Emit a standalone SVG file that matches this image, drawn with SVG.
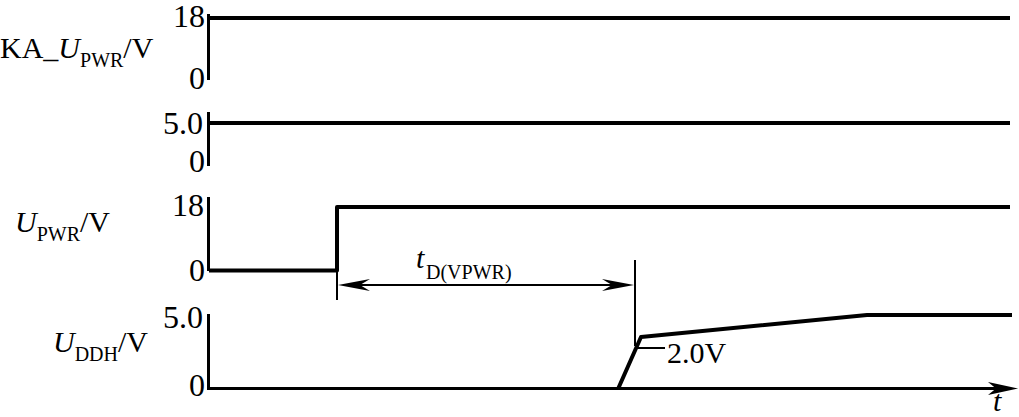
<svg xmlns="http://www.w3.org/2000/svg" width="1019" height="417" viewBox="0 0 1019 417">
<style>
text{font-family:"Liberation Serif","Times New Roman",serif;fill:#000}
.lbl{font-size:30px}
.num{font-size:32px}
.sub{font-size:20px}
.it{font-style:italic}
.axis{stroke:#000;stroke-width:3;fill:none}
.sig{stroke:#000;stroke-width:4;fill:none;stroke-linejoin:round}
.dim{stroke:#000;stroke-width:2;fill:none}
.head{fill:#000;stroke:none}
</style>
<rect width="1019" height="417" fill="#fff"/>
<g id="panel-ka-upwr">
<text class="lbl" x="0" y="58">KA_<tspan class="it">U</tspan><tspan class="sub" dy="9">PWR</tspan><tspan dy="-9">/V</tspan></text>
<text class="num" x="173" y="27">18</text>
<text class="num" x="189" y="89">0</text>
<line class="axis" x1="208.5" y1="14" x2="208.5" y2="80"/>
<line class="sig" x1="208" y1="18" x2="1010" y2="18"/>
</g>
<g id="panel-2">
<text class="num" x="163" y="134">5.0</text>
<text class="num" x="189" y="172">0</text>
<line class="axis" x1="208.5" y1="112" x2="208.5" y2="166"/>
<line class="sig" x1="208" y1="123" x2="1010" y2="123"/>
</g>
<g id="panel-upwr">
<text class="lbl" x="15" y="232"><tspan class="it">U</tspan><tspan class="sub" dy="9">PWR</tspan><tspan dy="-9">/V</tspan></text>
<text class="num" x="172" y="216">18</text>
<text class="num" x="189" y="281">0</text>
<line class="axis" x1="208.5" y1="197" x2="208.5" y2="271"/>
<polyline class="sig" points="209,270.5 337,270.5 337,207 1010,207"/>
</g>
<g id="panel-uddh">
<text class="lbl" x="53" y="352"><tspan class="it">U</tspan><tspan class="sub" dy="9">DDH</tspan><tspan dy="-9">/V</tspan></text>
<text class="num" x="163" y="328">5.0</text>
<text class="num" x="189" y="396">0</text>
<line class="axis" x1="208.5" y1="314" x2="208.5" y2="390"/>
<polyline class="sig" points="618,389 641,337 867,315 1012,315"/>
</g>
<g id="time-axis">
<line class="axis" x1="208" y1="388.5" x2="1005" y2="388.5"/>
<path class="head" d="M1018,388.5 L988,382 L996,388.5 L988,395 Z"/>
<text class="lbl it" x="993" y="411">t</text>
</g>
<g id="connectors">
<line class="dim" x1="337" y1="270" x2="337" y2="300"/>
<line class="dim" x1="635" y1="260" x2="635" y2="346"/>
<line class="dim" x1="345" y1="285" x2="628" y2="285"/>
<path class="head" d="M338,285 L370,279 L360,285 L370,291 Z"/>
<path class="head" d="M634,285 L602,279 L612,285 L602,291 Z"/>
<text class="lbl it" x="416" y="268">t</text>
<text class="sub" x="426" y="279">D(VPWR)</text>
<line class="dim" x1="635" y1="348" x2="665" y2="348"/>
<text class="lbl" x="667" y="363">2.0V</text>
</g>
</svg>
